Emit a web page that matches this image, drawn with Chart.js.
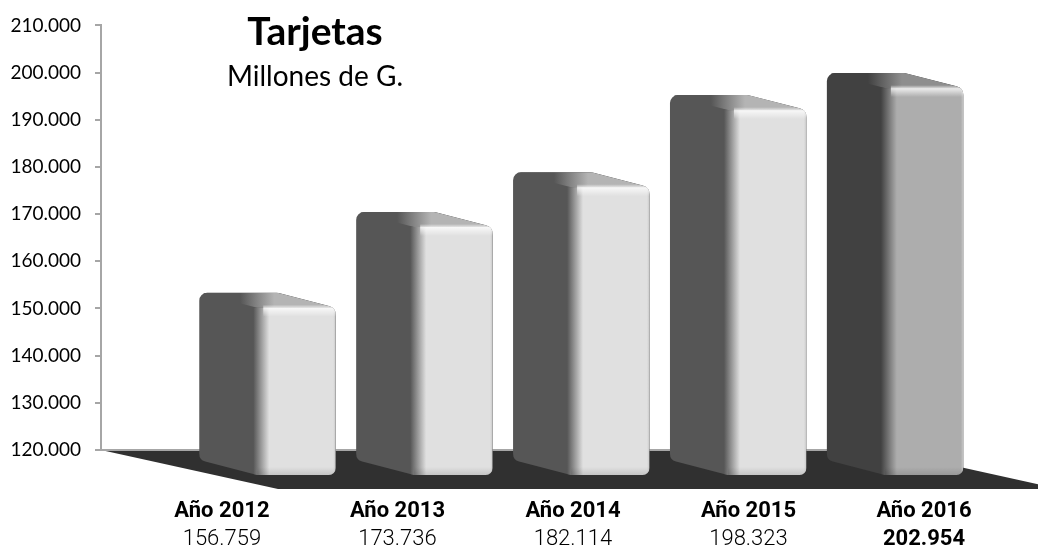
<!DOCTYPE html>
<html>
<head>
<meta charset="utf-8">
<script src="https://cdn.jsdelivr.net/npm/chart.js@4.4.1/dist/chart.umd.min.js"></script>
<style>
  html, body { margin: 0; padding: 0; background: #fff; }
</style>
</head>
<body>
<canvas id="myChart" width="1038" height="557"></canvas>
<script>
// data
const years = ["Año 2012", "Año 2013", "Año 2014", "Año 2015", "Año 2016"];
const totals = [156759, 173736, 182114, 198323, 202954];
const totalLabels = ["156.759", "173.736", "182.114", "198.323", "202.954"];
const axisTicks = [120000, 130000, 140000, 150000, 160000, 170000, 180000, 190000, 200000, 210000];
const titleText = "Tarjetas";
const subtitleText = "Millones de G.";

// styles
const sideColors = ["#565656", "#565656", "#565656", "#565656", "#414141"];
const faceColors = ["#e0e0e0", "#e0e0e0", "#e0e0e0", "#e0e0e0", "#adadad"];
const topColors = ["#b4b4b4", "#b4b4b4", "#b4b4b4", "#b4b4b4", "#8e8e8e"];
const labelFont = "Roboto, 'Liberation Sans', sans-serif";
const DX = -58, DY = -15; // bar depth
const fmt = (v) => v.toLocaleString("de-DE");

const roundPoly = (ctx, pts, rad) => {
  const n = pts.length;
  ctx.beginPath();
  ctx.moveTo((pts[n - 1][0] + pts[0][0]) / 2, (pts[n - 1][1] + pts[0][1]) / 2);
  for (let k = 0; k < n; k++) {
    const p = pts[k], q = pts[(k + 1) % n];
    ctx.arcTo(p[0], p[1], q[0], q[1], rad[k]);
  }
  ctx.closePath();
};

const drawBar = (ctx, l, r, t, b, i) => {
  const side = sideColors[i], face = faceColors[i];
  const sil = [[l + DX, t + DY], [r + DX, t + DY], [r, t], [r, b], [l, b], [l + DX, b + DY]];
  ctx.save();
  roundPoly(ctx, sil, [8, 10, 9, 7, 9, 8]);
  ctx.fillStyle = side;
  ctx.fill();
  ctx.clip();
  // top face
  let g = ctx.createLinearGradient(l + DX, 0, r, 0);
  g.addColorStop(0, side);
  g.addColorStop(0.3, side);
  g.addColorStop(0.55, topColors[i]);
  g.addColorStop(1, topColors[i]);
  ctx.fillStyle = g;
  ctx.beginPath();
  ctx.moveTo(l, t);
  ctx.lineTo(l + DX, t + DY);
  ctx.lineTo(r + DX, t + DY);
  ctx.lineTo(r, t);
  ctx.closePath();
  ctx.fill();
  // front face
  const w = r - l;
  g = ctx.createLinearGradient(l - 4, 0, r, 0);
  g.addColorStop(0, side);
  g.addColorStop(16 / (w + 4), face);
  g.addColorStop(0.97, face);
  g.addColorStop(1, "#c8c8c8");
  ctx.fillStyle = g;
  ctx.fillRect(l - 4, t, w + 4, b - t);
  // bevel highlight along the top edge
  g = ctx.createLinearGradient(0, t - 3, 0, t + 9);
  g.addColorStop(0, "rgba(255,255,255,0)");
  g.addColorStop(0.3, "rgba(255,255,255,0.75)");
  g.addColorStop(1, "rgba(255,255,255,0)");
  ctx.fillStyle = g;
  ctx.fillRect(l + 6, t - 3, w, 12);
  // soft shade at the bottom
  g = ctx.createLinearGradient(0, b - 8, 0, b);
  g.addColorStop(0, "rgba(0,0,0,0)");
  g.addColorStop(1, "rgba(0,0,0,0.12)");
  ctx.fillStyle = g;
  ctx.fillRect(l, b - 8, w, 8);
  ctx.restore();
};

const bars3d = {
  id: "bars3d",
  beforeDatasetsDraw(chart) {
    const { ctx, chartArea, scales } = chart;
    const bx = chartArea.left, by = scales.y.getPixelForValue(axisTicks[0]);
    const W = chartArea.right - bx - 147;
    ctx.save();
    ctx.fillStyle = "#303030";
    ctx.beginPath();
    ctx.moveTo(bx, by);
    ctx.lineTo(bx + W, by);
    ctx.lineTo(bx + W + 177, by + 39);
    ctx.lineTo(bx + 177, by + 39);
    ctx.closePath();
    ctx.fill();
    ctx.strokeStyle = "#a6a6a6";
    ctx.lineWidth = 2;
    ctx.beginPath();
    ctx.moveTo(bx, by);
    ctx.lineTo(bx + W, by);
    ctx.stroke();
    // title
    ctx.fillStyle = "#000";
    ctx.textAlign = "center";
    ctx.textBaseline = "middle";
    ctx.font = "bold 39px Lato, 'Open Sans', sans-serif";
    ctx.fillText(titleText, bx + 214, 32);
    ctx.font = "28px Lato, 'Open Sans', sans-serif";
    ctx.fillText(subtitleText, bx + 214, 77);
    ctx.restore();
  },
  afterDatasetsDraw(chart) {
    const { ctx, scales } = chart;
    const bottom = scales.y.getPixelForValue(axisTicks[0]) + 25;
    chart.getDatasetMeta(0).data.forEach((bar, i) => {
      const { x, y, width } = bar.getProps(["x", "y", "width"], true);
      drawBar(ctx, x - width / 2, x + width / 2, y, bottom, i);
    });
  },
};

const labelAxis = (labels, padding, height, fontOf) => ({
  type: "linear",
  position: "bottom",
  min: -0.689,
  max: 4.604,
  offset: false,
  afterBuildTicks: (s) => { s.ticks = labels.map((_, i) => ({ value: i })); },
  afterFit: (s) => { s.height = height; },
  grid: { display: false, drawTicks: false },
  border: { display: false },
  ticks: {
    autoSkip: false,
    maxRotation: 0,
    padding: padding,
    color: "#000",
    callback: (v) => labels[v],
    font: (c) => fontOf(c.index),
  },
});

const ctx = document.getElementById("myChart");
new Chart(ctx, {
  type: "bar",
  data: {
    datasets: [
      {
        label: titleText,
        data: years.map((_, i) => ({ x: i, y: totals[i] })),
        xAxisID: "xb",
        yAxisID: "yb",
        backgroundColor: "rgba(0,0,0,0)",
        categoryPercentage: 1,
        barPercentage: 0.5,
      },
    ],
  },
  options: {
    responsive: false,
    animation: false,
    layout: { padding: { top: 20, right: 8, left: 0, bottom: 0 } },
    plugins: { legend: { display: false }, tooltip: { enabled: false } },
    scales: {
      y: {
        type: "linear",
        position: "left",
        min: axisTicks[0],
        max: axisTicks[axisTicks.length - 1],
        afterBuildTicks: (s) => { s.ticks = axisTicks.map((v) => ({ value: v })); },
        afterFit: (s) => { s.width = 101; },
        ticks: {
          padding: 14,
          color: "#000",
          font: { family: "Lato, 'Open Sans', sans-serif", size: 19 },
          callback: (v) => fmt(v),
        },
        grid: { drawOnChartArea: false, tickLength: 6, color: "#a6a6a6", lineWidth: 2 },
        border: { color: "#a6a6a6", width: 2 },
      },
      yb: { type: "linear", display: false, min: 126820, max: 216140 },
      xb: {
        type: "linear",
        display: false,
        min: -1.246,
        max: 4.675,
        offset: false,
        afterBuildTicks: (s) => { s.ticks = years.map((_, i) => ({ value: i })); },
      },
      x: labelAxis(years, 50, 73, () => ({ family: labelFont, size: 22, weight: "bold", lineHeight: 1 })),
      x2: labelAxis(totalLabels, 5, 34, (k) => (k === totals.length - 1
        ? { family: labelFont, size: 22, weight: "bold", lineHeight: 1 }
        : { family: labelFont, size: 22, weight: "300", lineHeight: 1 })),
    },
  },
  plugins: [bars3d],
});
</script>
</body>
</html>
